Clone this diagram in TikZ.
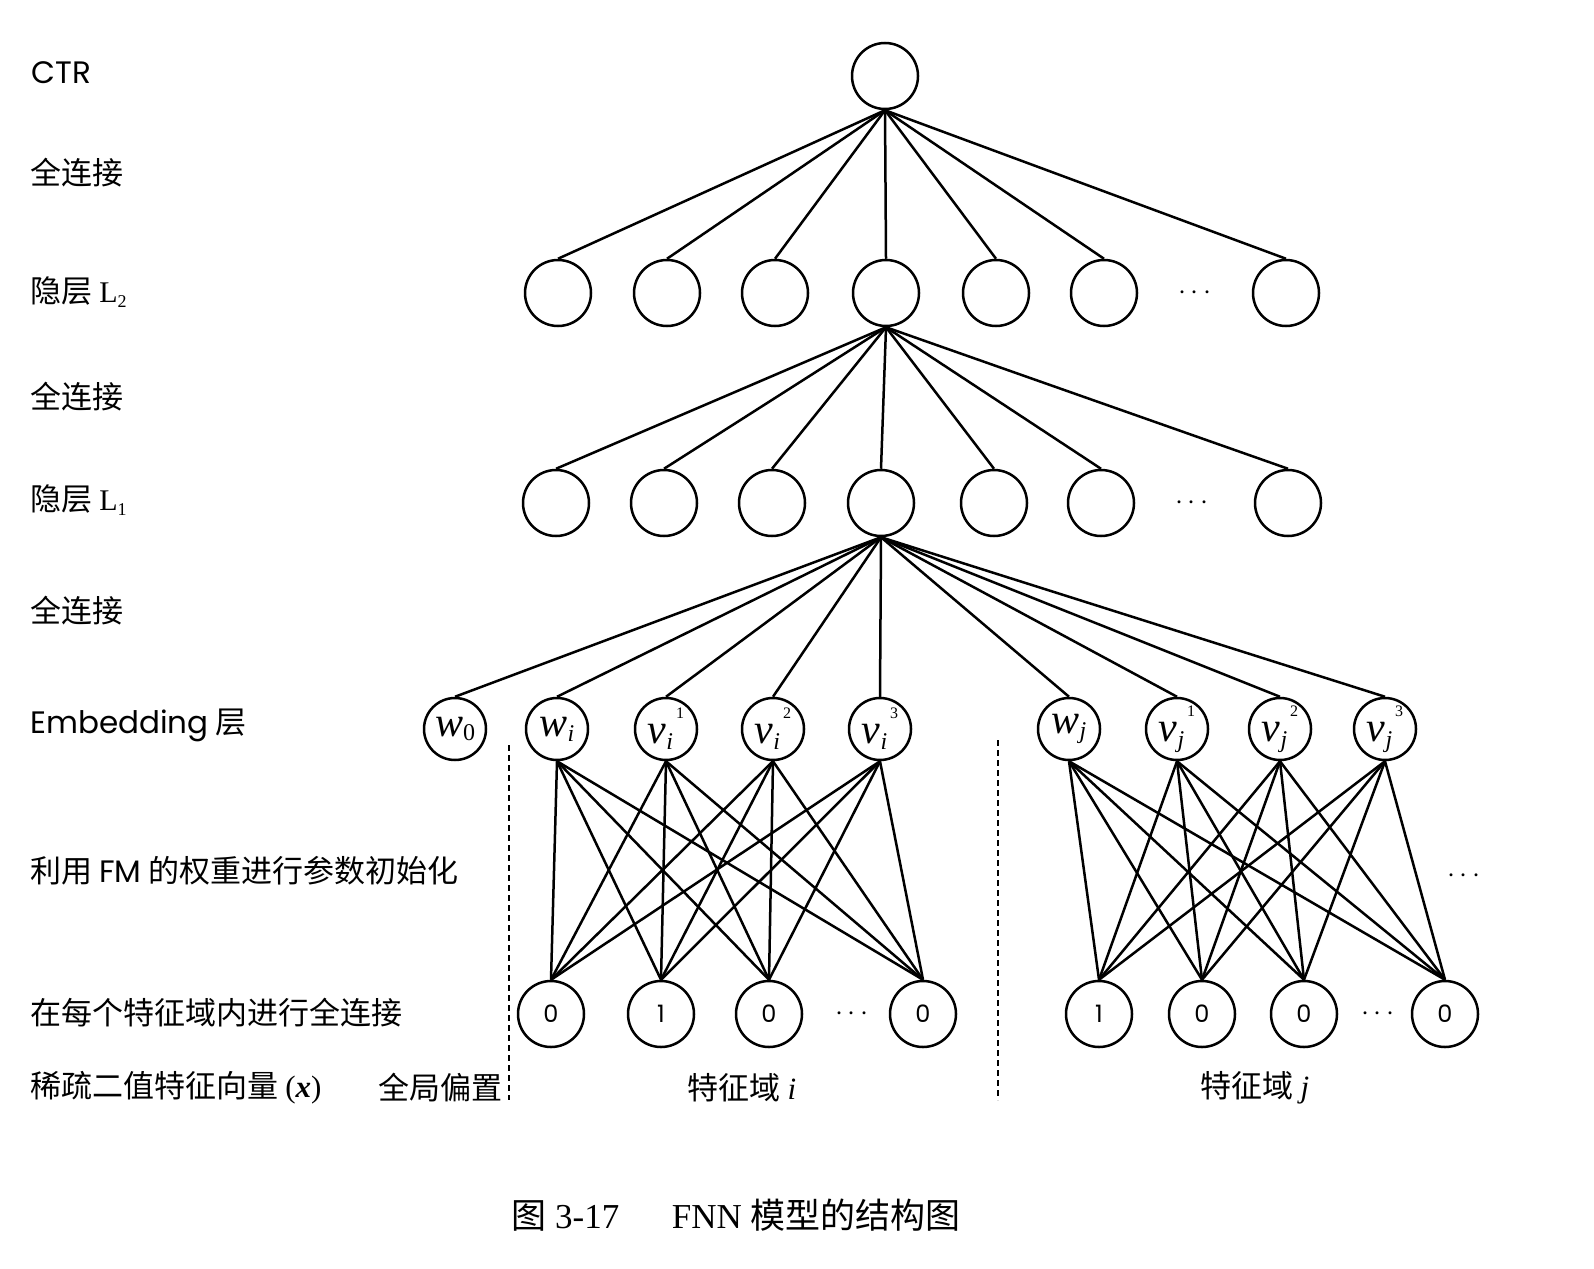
\documentclass[tikz,border=0pt]{standalone}
\usepackage{fontspec}
\setmainfont{Liberation Serif}
\newfontfamily\cjk{Noto Sans CJK SC}
\newfontfamily\lat{Poppins}
\newcommand\embw[1]{{\fontsize{21}{21}\selectfont\itshape w\raisebox{-0.25ex}{\fontsize{12}{12}\selectfont #1}}}
\newcommand\embv[2]{{\fontsize{21}{21}\selectfont\itshape v\raisebox{-0.3ex}{\fontsize{12}{12}\selectfont #1}\raisebox{1.3ex}{\fontsize{8}{8}\selectfont\upshape\hspace{1.5pt}#2}}}
\newcommand\dotsr{{\fontsize{14}{14}\selectfont$\cdots$}}
\begin{document}
\begin{tikzpicture}[x=0.5pt,y=-0.5pt,
  neuron/.style={circle,draw,line width=1.25pt,minimum size=33pt,inner sep=0pt},
  embn/.style={neuron,minimum size=31pt},
  bin/.style={neuron,font=\lat\fontsize{12}{12}\selectfont},
  conn/.style={line width=1.25pt},
  lab/.style={anchor=west,inner sep=0pt,font=\cjk\fontsize{15.5}{18}\selectfont},
  dotsn/.style={inner sep=0pt},
  sep/.style={line width=1.4pt,dash pattern=on 3pt off 2pt}]
\useasboundingbox (0,0) rectangle (1594,1268);
% labels
\node[lab] (t1) at (31,73) {{\lat CTR}};
\node[lab] (t2) at (30,173) {全连接};
\node[lab] (t3) at (30,292) {隐层 {\rmfamily\fontsize{15}{15}\selectfont L\raisebox{-0.35ex}{\fontsize{9}{9}\selectfont 2}}};
\node[lab] (t4) at (30,397) {全连接};
\node[lab] (t5) at (30,500) {隐层 {\rmfamily\fontsize{15}{15}\selectfont L\raisebox{-0.35ex}{\fontsize{9}{9}\selectfont 1}}};
\node[lab] (t6) at (30,611) {全连接};
\node[lab] (t7) at (30,725) {{\lat Embedding} 层};
\node[lab] (t8) at (30,871) {利用 {\lat FM} 的权重进行参数初始化};
\node[lab] (t9) at (30,1013) {在每个特征域内进行全连接};
\node[lab] (t10) at (30,1088) {稀疏二值特征向量 {\rmfamily (\textbf{\textit{x}})}};
\node[lab] (t11) at (378,1088) {全局偏置};
\node[lab,anchor=center] (t12) at (742,1088) {特征域 {\rmfamily\itshape i}};
\node[lab,anchor=center] (t13) at (1255,1088) {特征域 {\rmfamily\itshape j}};
\node[inner sep=0pt,font=\fontsize{17.5}{20}\selectfont] (cap) at (736,1215) {{\cjk 图} 3-17\hspace{1.5em}FNN {\cjk 模型的结构图}};
% top
\node[neuron] (ctr) at (885,76) {};
\foreach \x [count=\n] in {558,667,775,886,996,1104,1286}
  \node[neuron] (h2-\n) at (\x,293) {};
\node[dotsn] (d2) at (1195,293) {\dotsr};
\foreach \x [count=\n] in {556,664,772,881,994,1101,1288}
  \node[neuron] (h1-\n) at (\x,503) {};
\node[dotsn] (d1) at (1192,503) {\dotsr};
% embedding
\node[embn] (e0) at (455,729) {\embw{\upshape 0}};
\node[embn] (ei0) at (557,729) {\embw{i}};
\node[embn] (ei1) at (666,729) {\embv{i}{1}};
\node[embn] (ei2) at (773,729) {\embv{i}{2}};
\node[embn] (ei3) at (880,729) {\embv{i}{3}};
\node[embn] (ej0) at (1069,729) {\embw{j}};
\node[embn] (ej1) at (1177,729) {\embv{j}{1}};
\node[embn] (ej2) at (1280,729) {\embv{j}{2}};
\node[embn] (ej3) at (1385,729) {\embv{j}{3}};
% binary
\node[bin] (bi1) at (551,1014) {0};
\node[bin] (bi2) at (661,1014) {1};
\node[bin] (bi3) at (769,1014) {0};
\node[bin] (bi4) at (923,1014) {0};
\node[dotsn] (dbi) at (852,1014) {\dotsr};
\node[bin] (bj1) at (1099,1014) {1};
\node[bin] (bj2) at (1202,1014) {0};
\node[bin] (bj3) at (1304,1014) {0};
\node[bin] (bj4) at (1445,1014) {0};
\node[dotsn] (dbj) at (1378,1014) {\dotsr};
\node[dotsn] (dr) at (1464,876) {\dotsr};
% connections
\foreach \n in {1,...,7} \draw[conn] (ctr.south) -- (h2-\n.north);
\foreach \n in {1,...,7} \draw[conn] (h2-4.south) -- (h1-\n.north);
\foreach \m in {e0,ei0,ei1,ei2,ei3,ej0,ej1,ej2,ej3} \draw[conn] (h1-4.south) -- (\m.north);
\foreach \a in {0,...,3} \foreach \b in {1,...,4} {
  \draw[conn] (ei\a.south) -- (bi\b.north);
  \draw[conn] (ej\a.south) -- (bj\b.north);
}
% separators
\coordinate (s1a) at (509,745);
\coordinate (s1b) at (509,1100);
\coordinate (s2a) at (998,740);
\coordinate (s2b) at (998,1100);
\draw[sep] (s1a) -- (s1b);
\draw[sep] (s2a) -- (s2b);
\end{tikzpicture}
\end{document}
